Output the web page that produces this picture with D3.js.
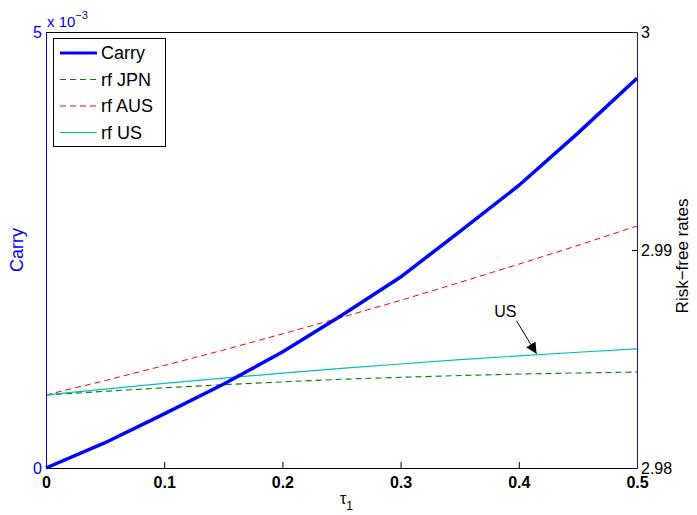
<!DOCTYPE html>
<html>
<head>
<meta charset="utf-8">
<script src="https://cdn.jsdelivr.net/npm/d3@7"></script>
<style>
  body { margin: 0; background: #fff; }
  svg text { font-family: "Liberation Sans", Arial, sans-serif; }
</style>
</head>
<body>
<svg id="chart" width="697" height="515"></svg>
<script>
// tau values
const tau = [0, 0.05, 0.1, 0.15, 0.2, 0.25, 0.3, 0.35, 0.4, 0.45, 0.5];
// carry, in units of 1e-3 (left axis)
const carry = [0, 0.29, 0.62, 0.96, 1.33, 1.75, 2.19, 2.71, 3.24, 3.84, 4.47];
// risk-free rates (right axis)
const rfJPN = [2.98335, 2.98352, 2.98368, 2.98382, 2.98395, 2.98407, 2.98416, 2.98424, 2.98431, 2.98436, 2.98440];
const rfAUS = [2.98335, 2.98401, 2.98470, 2.98541, 2.98615, 2.98691, 2.98769, 2.98851, 2.98935, 2.99021, 2.99110];
const rfUS  = [2.98335, 2.98362, 2.98388, 2.98412, 2.98435, 2.98457, 2.98477, 2.98497, 2.98514, 2.98531, 2.98546];

const xTicks = [0, 0.1, 0.2, 0.3, 0.4, 0.5];
const leftTicks = [0, 5];
const rightTicks = [2.98, 2.99, 3];
const legendNames = ['Carry', 'rf JPN', 'rf AUS', 'rf US'];

const W = 697, H = 515;
const m = { left: 46, right: 60, top: 32, bottom: 47 };
const pw = W - m.left - m.right, ph = H - m.top - m.bottom;

const svg = d3.select('#chart');
svg.append('rect').attr('width', W).attr('height', H).attr('fill', '#fff');
const g = svg.append('g').attr('transform', `translate(${m.left},${m.top})`);

const x = d3.scaleLinear().domain([0, 0.5]).range([0, pw]);
const yL = d3.scaleLinear().domain([0, 5]).range([ph, 0]);
const yR = d3.scaleLinear().domain([2.98, 3]).range([ph, 0]);

// top border
g.append('line').attr('x1', 0).attr('x2', pw).attr('y1', 0.5).attr('y2', 0.5)
  .attr('stroke', '#000').attr('stroke-width', 1);

// series
const lineL = d3.line().x((d, i) => x(tau[i])).y(d => yL(d));
const lineR = d3.line().x((d, i) => x(tau[i])).y(d => yR(d));

const series = [
  { name: 'rf JPN', data: rfJPN, line: lineR, color: '#008000', width: 1.1, dash: '6,4' },
  { name: 'rf AUS', data: rfAUS, line: lineR, color: '#ff0000', width: 1, dash: '6,4' },
  { name: 'rf US', data: rfUS, line: lineR, color: '#00bfbf', width: 1.2, dash: null },
  { name: 'Carry', data: carry, line: lineL, color: '#0000ff', width: 3.5, dash: null }
];

series.forEach(s => {
  g.append('path')
    .attr('d', s.line(s.data))
    .attr('fill', 'none')
    .attr('stroke', s.color)
    .attr('stroke-width', s.width)
    .attr('stroke-dasharray', s.dash);
});

// bottom axis
const xAxis = g.append('g').attr('transform', `translate(0,${ph})`)
  .call(d3.axisBottom(x).tickValues(xTicks).tickSize(-6).tickPadding(9)
    .tickFormat(d => d === 0 ? '0' : d3.format('.1f')(d)));
xAxis.select('.domain').attr('stroke', '#000');
xAxis.selectAll('text').attr('font-size', 16).attr('font-weight', 'bold').attr('fill', '#000');

// left axis
const yAxisL = g.append('g')
  .call(d3.axisLeft(yL).tickValues(leftTicks).tickSize(0).tickPadding(4)
    .tickFormat(d3.format('d')));
yAxisL.select('.domain').attr('stroke', '#0000ff');
yAxisL.selectAll('text').attr('font-size', 16).attr('fill', '#0000ff');

// right axis
const yAxisR = g.append('g').attr('transform', `translate(${pw},0)`)
  .call(d3.axisRight(yR).tickValues(rightTicks).tickSize(-5).tickPadding(4)
    .tickFormat(d => d === 3 ? '3' : d3.format('.2f')(d)));
yAxisR.select('.domain').attr('stroke', '#1a1a80');
yAxisR.selectAll('.tick line').attr('stroke', '#000');
yAxisR.selectAll('text').attr('font-size', 16).attr('fill', '#000');
yAxisR.selectAll('.tick').filter(d => d === 2.98 || d === 3).select('line').remove();

// exponent label
const expo = svg.append('text').attr('x', 47).attr('y', 27)
  .attr('font-size', 15).attr('fill', '#0000ff');
expo.append('tspan').text('x 10');
expo.append('tspan').attr('dy', -8).attr('font-size', 11).text('\u22123');

// axis labels
svg.append('text')
  .attr('transform', `translate(23,${m.top + ph / 2}) rotate(-90)`)
  .attr('text-anchor', 'middle').attr('font-size', 18).attr('fill', '#0000ff')
  .text('Carry');
svg.append('text')
  .attr('transform', `translate(688,${m.top + ph / 2 + 6}) rotate(-90)`)
  .attr('text-anchor', 'middle').attr('font-size', 17).attr('fill', '#000')
  .text('Risk\u2212free rates');
const xl = svg.append('text').attr('x', 340).attr('y', 504)
  .attr('font-size', 16).attr('fill', '#000');
xl.append('tspan').text('\u03c4');
xl.append('tspan').attr('dy', 6).attr('font-size', 12).text('1');

// annotation
const defs = svg.append('defs');
defs.append('marker').attr('id', 'arrow').attr('viewBox', '0 0 10 10')
  .attr('refX', 10).attr('refY', 5).attr('markerWidth', 11).attr('markerHeight', 11)
  .attr('markerUnits', 'userSpaceOnUse').attr('orient', 'auto')
  .append('path').attr('d', 'M0,0 L10,5 L0,10 z').attr('fill', '#000');
const annT = 0.415;
const annIdx = d3.bisectLeft(tau, annT);
const annY = rfUS[annIdx - 1] + (rfUS[annIdx] - rfUS[annIdx - 1]) * (annT - tau[annIdx - 1]) / (tau[annIdx] - tau[annIdx - 1]);
g.append('line')
  .attr('x1', x(annT) - 20).attr('y1', yR(annY) - 34)
  .attr('x2', x(annT)).attr('y2', yR(annY) - 1)
  .attr('stroke', '#000').attr('stroke-width', 1)
  .attr('marker-end', 'url(#arrow)');
g.append('text').attr('x', x(annT) - 20).attr('y', yR(annY) - 38)
  .attr('text-anchor', 'end').attr('font-size', 16).attr('fill', '#000')
  .text('US');

// legend
const lg = svg.append('g').attr('transform', 'translate(53,38)');
lg.append('rect').attr('x', 0.5).attr('y', 0.5).attr('width', 112).attr('height', 108)
  .attr('fill', '#fff').attr('stroke', '#000');
const legendOrder = [series[3], series[0], series[1], series[2]];
legendOrder.forEach((s, i) => {
  const yy = 15 + i * 26.5;
  lg.append('line').attr('x1', 7).attr('x2', 44).attr('y1', yy).attr('y2', yy)
    .attr('stroke', s.color).attr('stroke-width', s.width === 3.5 ? 3 : 1)
    .attr('stroke-dasharray', s.dash);
  lg.append('text').attr('x', 48).attr('y', yy).attr('dy', '0.35em')
    .attr('font-size', 18).attr('fill', '#000').text(legendNames[i]);
});
</script>
</body>
</html>
